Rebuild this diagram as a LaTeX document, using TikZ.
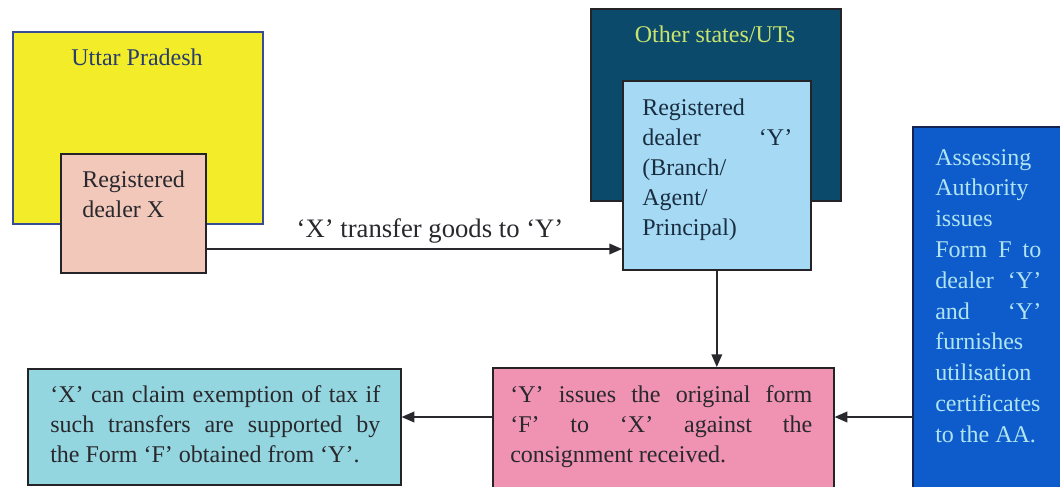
\documentclass[tikz,border=0pt]{standalone}
\usepackage{fontspec}
\setmainfont{Liberation Serif}
\usetikzlibrary{arrows.meta}
\newlength\px \setlength\px{0.75pt}
\definecolor{ink}{RGB}{40,40,45}
\definecolor{boxline}{RGB}{35,35,40}
\definecolor{upyellow}{RGB}{243,236,40}
\definecolor{upline}{RGB}{55,75,150}
\definecolor{uptext}{RGB}{40,60,110}
\definecolor{peach}{RGB}{241,200,186}
\definecolor{osfill}{RGB}{12,74,108}
\definecolor{ostext}{RGB}{200,228,110}
\definecolor{lightblue}{RGB}{166,218,244}
\definecolor{ytext}{RGB}{25,45,65}
\definecolor{aablue}{RGB}{14,92,204}
\definecolor{aaline}{RGB}{20,35,80}
\definecolor{aatext}{RGB}{176,228,240}
\definecolor{cyanbox}{RGB}{148,214,224}
\definecolor{pinkbox}{RGB}{240,146,178}
\begin{document}
\begin{tikzpicture}[x=0.75pt,y=-0.75pt,
  box/.style={draw=boxline, line width=1.2pt, inner sep=0pt, anchor=north west},
  txt/.style={inner sep=0pt, font=\fontsize{18}{22.5}\selectfont, text=ink},
  arr/.style={line width=1.1pt, draw=ink, -{Triangle[length=9.5pt,width=8pt]}}]
\useasboundingbox (0,0) rectangle (1060,486);
\fill[white] (0,0) rectangle (1060,486);

% Uttar Pradesh
\node[box, draw=upline, fill=upyellow, minimum width=250\px, minimum height=192\px] (up) at (12,31) {};
\node[txt, anchor=base, text=uptext] (uptitle) at (137,65) {Uttar Pradesh};
\node[box, fill=peach, minimum width=145\px, minimum height=119\px] (xd) at (60,153) {};
\node[txt, anchor=base west] (xdt) at (82,187) {\parbox[t]{120\px}{Registered\\dealer X}};

% Other states
\node[box, fill=osfill, minimum width=250\px, minimum height=192\px] (os) at (590,8) {};
\node[txt, anchor=base, text=ostext] (ost) at (715,42) {Other states/UTs};
\node[box, fill=lightblue, minimum width=188\px, minimum height=189\px] (yd) at (622,80) {};
\node[txt, anchor=base west, text=ytext] (ydt) at (642,115) {\parbox[t]{150\px}{Registered\\\makebox[\linewidth][s]{dealer ‘Y’}\\(Branch/\\Agent/\\Principal)}};

% Assessing Authority
\node[box, draw=none, fill=aablue, minimum width=152\px, minimum height=364\px] (aa) at (913,127) {};
\draw[aaline, line width=1.2pt] (aa.south west) -- (aa.north west) -- (aa.north east);
\node[txt, anchor=base west, text=aatext, font=\fontsize{18}{23.1}\selectfont] (aat) at (935,165) {\parbox[t]{106\px}{Assessing\\Authority\\issues\\\makebox[\linewidth][s]{Form F to}\\\makebox[\linewidth][s]{dealer ‘Y’}\\\makebox[\linewidth][s]{and ‘Y’}\\furnishes\\utilisation\\certificates\\to the AA.}};

% Bottom boxes
\node[box, fill=cyanbox, minimum width=373\px, minimum height=116\px] (cl) at (27,368) {};
\node[txt, anchor=base west] (clt) at (50,402) {\parbox[t]{330\px}{\makebox[\linewidth][s]{‘X’ can claim exemption of tax if}\\\makebox[\linewidth][s]{such transfers are supported by}\\the Form ‘F’ obtained from ‘Y’.}};
\node[box, fill=pinkbox, minimum width=341\px, minimum height=125\px] (pk) at (492,367) {};
\node[txt, anchor=base west] (pkt) at (510,402) {\parbox[t]{302\px}{\makebox[\linewidth][s]{‘Y’ issues the original form}\\\makebox[\linewidth][s]{‘F’ to ‘X’ against the}\\consignment received.}};

% Connectors
\coordinate (h1) at (0,249);
\coordinate (h2) at (0,417);
\draw[arr] (xd.east |- h1) -- (yd.west |- h1);
\node[txt, font=\fontsize{20}{24}\selectfont, anchor=base] (lbl) at (430,237) {‘X’ transfer goods to ‘Y’};
\draw[arr] (yd.south) -- (yd.south |- pk.north);
\draw[arr] (pk.west |- h2) -- (cl.east |- h2);
\draw[arr] (aa.west |- h2) -- (pk.east |- h2);
\end{tikzpicture}
\end{document}
